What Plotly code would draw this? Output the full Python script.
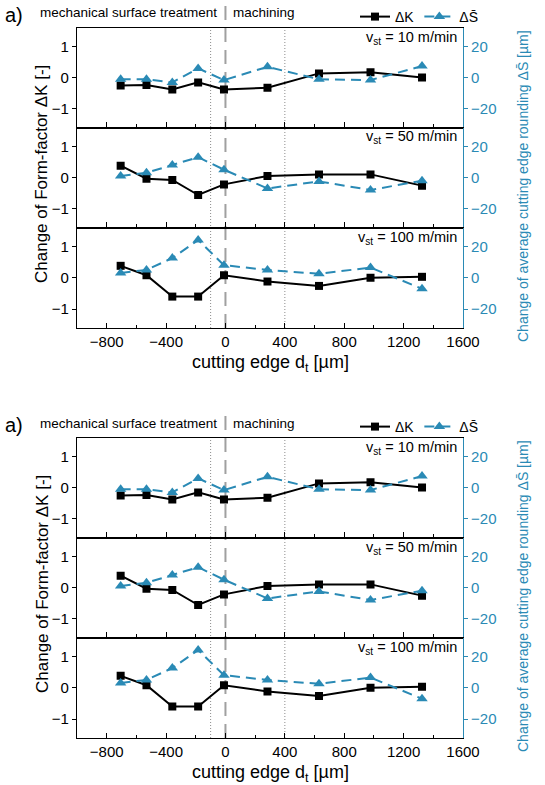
import plotly.graph_objects as go

# ---------------------------------------------------------------- data
positions = [-706, -532, -358, -184, -10, 283, 630, 977, 1324]   # cutting edge d_t [µm]
speeds = ["10", "50", "100"]                                      # v_st [m/min]

dK_10 = [-0.25, -0.23, -0.38, -0.15, -0.38, -0.32, 0.14, 0.18, 0.01]
dK_50 = [0.38, -0.04, -0.08, -0.56, -0.22, 0.05, 0.10, 0.10, -0.26]
dK_100 = [0.38, 0.08, -0.60, -0.60, 0.08, -0.12, -0.26, 0.00, 0.03]

dS_10 = [-1.0, -1.0, -3.0, 6.0, -1.5, 7.0, -1.0, -1.5, 7.5]
dS_50 = [1.0, 3.0, 8.0, 13.0, 5.0, -7.0, -2.5, -8.0, -2.0]
dS_100 = [3.0, 5.0, 12.5, 24.0, 8.0, 5.0, 2.5, 6.5, -7.0]

x_ticks = [-800, -400, 0, 400, 800, 1200, 1600]
k_ticks = [-1, 0, 1]
s_ticks = [-20, 0, 20]
regime_bounds = [-100, 400]      # dotted guide lines
tool_edge = 0                    # dashed separator between regimes

# ---------------------------------------------------------------- styling
W, H = 545, 785
FONT = "Liberation Sans, Arial, sans-serif"
BLUE = "#2a8ab5"
BLACK = "#000000"
S_BAR = "S\u0304"

dK = [dK_10, dK_50, dK_100]
dS = [dS_10, dS_50, dS_100]


def fx(px):
    return px / W


def fy(px):
    return 1 - px / H


PLOT_L, PLOT_R = 77, 463
panel_edges = [28, 127.5, 227.5, 328]
chart_offsets = [0, 410]

fig = go.Figure()
layout = dict(
    width=W, height=H, autosize=False,
    margin=dict(l=0, r=0, t=0, b=0, autoexpand=False),
    paper_bgcolor="white", plot_bgcolor="rgba(0,0,0,0)",
    font=dict(family=FONT, size=15, color=BLACK),
    showlegend=True,
)
annotations = []
shapes = []

for c, off in enumerate(chart_offsets):
    legend_name = "legend" if c == 0 else "legend2"
    for p in range(3):
        n = c * 3 + p + 1
        xa = "x" if n == 1 else f"x{n}"
        ya = "y" if n == 1 else f"y{n}"
        ya2 = f"y{n + 6}"
        top = panel_edges[p] + off
        bot = panel_edges[p + 1] + off
        bottom_panel = p == 2

        layout["xaxis" if n == 1 else f"xaxis{n}"] = dict(
            domain=[fx(PLOT_L), fx(PLOT_R)], anchor=ya,
            range=[-1000, 1600], tickvals=x_ticks,
            showticklabels=bottom_panel,
            ticks="inside", ticklen=5, tickwidth=1, tickcolor=BLACK,
            minor=dict(ticks="inside", dtick=200, tick0=0, ticklen=3,
                       tickcolor=BLACK, showgrid=False),
            showline=True, linecolor=BLACK, linewidth=1.2, mirror=True,
            showgrid=False, zeroline=False, automargin=False,
            tickfont=dict(size=15, color=BLACK),
        )
        layout["yaxis" if n == 1 else f"yaxis{n}"] = dict(
            domain=[fy(bot), fy(top)], anchor=xa,
            range=[-1.6, 1.6], tickvals=k_ticks,
            ticks="outside", ticklen=4, tickcolor=BLACK,
            showline=True, linecolor=BLACK, linewidth=1.2,
            showgrid=False, zeroline=False, automargin=False,
            tickfont=dict(size=15, color=BLACK),
        )
        layout[f"yaxis{n + 6}"] = dict(
            overlaying=ya, anchor=xa, side="right",
            range=[-32, 32], tickvals=s_ticks,
            ticks="outside", ticklen=4, tickcolor=BLUE,
            showline=True, linecolor=BLUE, linewidth=1.2,
            showgrid=False, zeroline=False, automargin=False,
            tickfont=dict(size=15, color=BLUE),
        )

        fig.add_trace(go.Scatter(
            x=positions, y=dS[p], xaxis=xa, yaxis=ya2,
            mode="lines+markers", name="\u0394" + S_BAR,
            line=dict(color=BLUE, width=2, dash="10px,6px"),
            marker=dict(symbol="triangle-up", size=10, color=BLUE),
            legend=legend_name, legendrank=2, showlegend=(p == 0),
        ))
        fig.add_trace(go.Scatter(
            x=positions, y=dK[p], xaxis=xa, yaxis=ya,
            mode="lines+markers", name="\u0394K",
            line=dict(color=BLACK, width=2),
            marker=dict(symbol="square", size=8, color=BLACK),
            legend=legend_name, legendrank=1, showlegend=(p == 0),
        ))

        annotations.append(dict(
            text=f"v<sub>st</sub> = {speeds[p]} m/min",
            xref="paper", yref="paper", x=fx(459), y=fy(top + 10),
            xanchor="right", yanchor="middle", showarrow=False,
            font=dict(size=14.5, color=BLACK),
        ))

    xref = "x" if c == 0 else "x4"
    for xb in regime_bounds:
        shapes.append(dict(
            type="line", xref=xref, yref="paper",
            x0=xb, x1=xb, y0=fy(328 + off), y1=fy(28 + off),
            line=dict(color="#8c8c8c", width=1, dash="1px,2px"), layer="below",
        ))
    shapes.append(dict(
        type="line", xref=xref, yref="paper",
        x0=tool_edge, x1=tool_edge, y0=fy(328 + off), y1=fy(5 + off),
        line=dict(color="#a0a0a0", width=2, dash="14px,8px"), layer="below",
    ))

    annotations += [
        dict(text="a)", xref="paper", yref="paper", x=fx(3), y=fy(15 + off),
             xanchor="left", yanchor="middle", showarrow=False,
             font=dict(size=20, color=BLACK)),
        dict(text="mechanical surface treatment", xref="paper", yref="paper",
             x=fx(219), y=fy(13 + off), xanchor="right", yanchor="middle",
             showarrow=False, font=dict(size=13.5, color=BLACK)),
        dict(text="machining", xref="paper", yref="paper",
             x=fx(231), y=fy(13 + off), xanchor="left", yanchor="middle",
             showarrow=False, font=dict(size=13.5, color=BLACK)),
        dict(text="Change of Form-factor \u0394K [-]", xref="paper", yref="paper",
             x=fx(42), y=fy(174 + off), textangle=-90, showarrow=False,
             xanchor="center", yanchor="middle", font=dict(size=17, color=BLACK)),
        dict(text="Change of average cutting edge rounding \u0394" + S_BAR + " [\u00b5m]",
             xref="paper", yref="paper", x=fx(523), y=fy(186 + off), textangle=-90,
             showarrow=False, xanchor="center", yanchor="middle",
             font=dict(size=14, color=BLUE)),
        dict(text="cutting edge d<sub>t</sub> [\u00b5m]", xref="paper", yref="paper",
             x=fx(270), y=fy(363 + off), xanchor="center", yanchor="middle",
             showarrow=False, font=dict(size=18, color=BLACK)),
    ]

    layout[legend_name] = dict(
        orientation="h", x=fx(484), xanchor="right",
        y=fy(17 + off), yanchor="middle",
        bgcolor="rgba(0,0,0,0)", borderwidth=0,
        font=dict(size=14, color=BLACK), itemwidth=30,
        traceorder="normal",
    )

layout["annotations"] = annotations
layout["shapes"] = shapes
fig.update_layout(**layout)

# keep the page exactly the figure's size, without scrollbars
fig.write_html(
    "out.html",
    post_script="document.documentElement.style.overflow='hidden';"
                "document.body.style.overflow='hidden';"
                "document.body.style.margin='0';",
)
